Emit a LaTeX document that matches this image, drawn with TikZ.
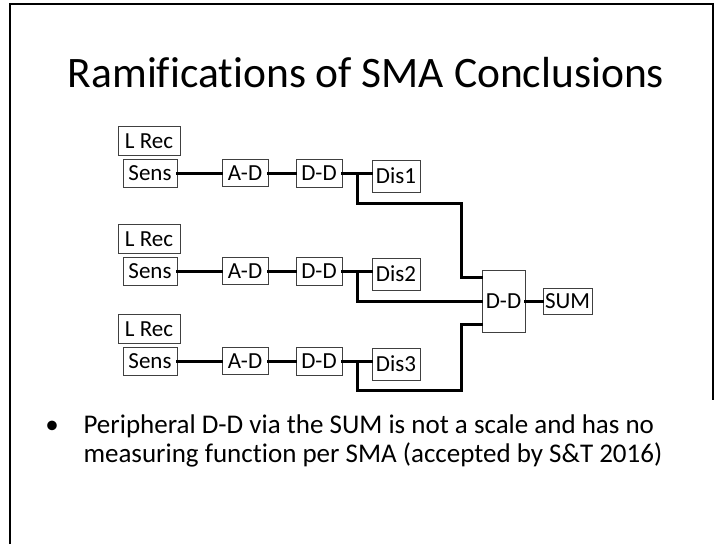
\documentclass[tikz,border=0pt]{standalone}
\usepackage{fontspec}
\setmainfont{Carlito}[Ligatures=NoCommon]
\usetikzlibrary{calc}
\begin{document}
\begin{tikzpicture}[x=1pt,y=-1pt,
  blk/.style={draw=black!75, line width=1pt, inner sep=0pt, font=\fontsize{23}{27}\selectfont, fill=white},
  wire/.style={line width=3pt, line cap=rect},
  frameline/.style={line width=2.5pt},
  bodytext/.style={font=\fontsize{27}{30}\selectfont}]
\useasboundingbox (0,0) rectangle (719,544);
\fill[white] (0,0) rectangle (719,544);
% slide frame
\draw[frameline] (10,544) -- (10,4) -- (713,4) -- (713,400);
% title
\node[anchor=base, font=\fontsize{43.5}{50}\selectfont] (title) at (366,87) {Ramifications of SMA Conclusions};
% three sensor chains
\foreach \r/\y/\f in {1/173/203, 2/271/301, 3/361/390}{
  \node[blk, minimum width=62pt, minimum height=29pt] (lrec\r) at (149,\y-32) {L Rec};
  \node[blk, minimum width=54pt, minimum height=28pt] (sens\r) at (150,\y) {Sens};
  \node[blk, minimum width=46pt, minimum height=27pt] (ad\r) at (245,\y) {A-D};
  \node[blk, minimum width=46pt, minimum height=28pt] (dd\r) at (319,\y) {D-D};
  \node[blk, minimum width=48pt, minimum height=32pt] (dis\r) at (396,\y+3) {Dis\r};
  \coordinate (j\r) at (357,\y);
  \coordinate (k\r) at (357,\f);
  \draw[wire] (sens\r.east) -- (ad\r.west);
  \draw[wire] (ad\r.east) -- (dd\r.west);
  \draw[wire] (dd\r.east) -- (dd\r.east -| dis\r.west);
}
% central combiner
\node[blk, minimum width=43pt, minimum height=62pt] (dds) at (503.5,301) {D-D};
\node[blk, minimum width=49pt, minimum height=26pt] (sum) at (567.5,301) {SUM};
\draw[wire] (dds.east) -- (sum.west);
\coordinate (in1) at ($(dds.west)+(0,-24)$);
\coordinate (in3) at ($(dds.west)+(0,23)$);
\draw[wire] (j1) -- (k1) -- (461,203) -- (461,277) -- (in1);
\draw[wire] (j2) -- (k2) -- (dds.west);
\draw[wire] (j3) -- (k3) -- (461,390) -- (461,324) -- (in3);
% bullet text
\node[anchor=base, bodytext] (bul) at (52,433) {•};
\node[anchor=base west, bodytext] (l1) at (80,433) {Peripheral D-D via the SUM is not a scale and has no};
\node[anchor=base west, bodytext] (l2) at (80,462) {measuring function per SMA (accepted by S\&T 2016)};
\end{tikzpicture}
\end{document}
